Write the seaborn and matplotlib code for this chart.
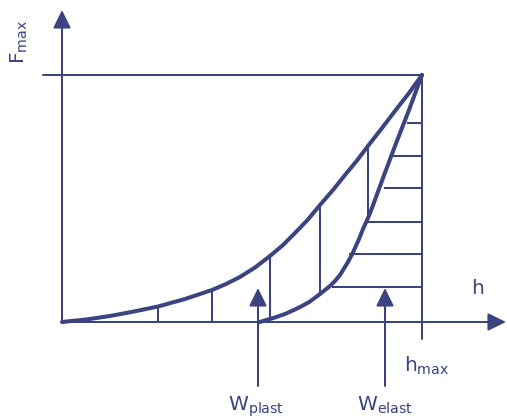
import matplotlib
matplotlib.use("Agg")
import matplotlib.pyplot as plt
import seaborn as sns

# Indentation diagram: force F (fraction of F_max) vs depth h (fraction of h_max)
load_h = [0, 0.0667, 0.1333, 0.2, 0.2667, 0.3417, 0.4167, 0.4556, 0.4944, 0.5361,
          0.5778, 0.6139, 0.6472, 0.6833, 0.7167, 0.7528, 0.7861, 0.8194, 0.85,
          0.8889, 0.925, 0.9639, 1.0]
load_F = [0, 0.0101, 0.0243, 0.0425, 0.0628, 0.0931, 0.1296, 0.1538, 0.1822, 0.2206,
          0.2672, 0.3117, 0.3603, 0.415, 0.4737, 0.5344, 0.5951, 0.6538, 0.7126,
          0.7854, 0.8543, 0.9271, 1.0]

unload_h = [0.55, 0.5722, 0.5917, 0.6194, 0.6472, 0.6694, 0.6889, 0.7167, 0.7444,
            0.7583, 0.7722, 0.7833, 0.7944, 0.8056, 0.8139, 0.825, 0.8361, 0.85,
            0.8611, 0.8917, 0.925, 0.9639, 1.0]
unload_F = [0, 0.0101, 0.0182, 0.0324, 0.0506, 0.0668, 0.083, 0.1134, 0.1457,
            0.166, 0.1903, 0.2166, 0.2429, 0.2733, 0.2996, 0.336, 0.3765, 0.4211,
            0.4615, 0.583, 0.7126, 0.8583, 1.0]

# vertical hatching of the plastic work area
plast_h = [0.2667, 0.4167, 0.5778, 0.7167, 0.85]
plast_top = [0.0628, 0.1296, 0.2672, 0.4737, 0.7126]
plast_bottom = [0, 0, 0.0142, 0.1134, 0.4211]

# horizontal hatching of the elastic work area
elast_F = [0.8069, 0.6721, 0.5405, 0.4061, 0.2753, 0.1397]
elast_left = [0.9575, 0.9158, 0.8944, 0.85, 0.7972, 0.7492]

labels = ["$\\mathregular{F_{max}}$", "h", "$\\mathregular{h_{max}}$",
          "$\\mathregular{W_{plast}}$", "$\\mathregular{W_{elast}}$"]

navy = "#3b4381"
thin = 1.45
thick = 2.9

sns.set_theme(style="white")
plt.rcParams["font.family"] = ["DejaVu Sans"]

fig = plt.figure(figsize=(5.07, 4.17), dpi=100)
ax = fig.add_axes([0, 0, 1, 1])
ax.set_xlim(-62 / 360, 445 / 360)
ax.set_ylim(-95 / 247, 322 / 247)
ax.axis("off")


def arrow(x0, y0, x1, y1):
    ax.annotate("", xy=(x1, y1), xytext=(x0, y0),
                arrowprops=dict(arrowstyle="-|>,head_length=11,head_width=5.4",
                                mutation_scale=1, lw=thin, color=navy,
                                shrinkA=0, shrinkB=0))


# axes with arrows
arrow(0, 0, 0, 312 / 247)
arrow(0, 0, 444 / 360, 0)

# F_max and h_max guide lines
ax.plot([-19 / 360, 1.0], [1.0, 1.0], color=navy, lw=thin)
ax.plot([1.0, 1.0], [1.0, -17 / 247], color=navy, lw=thin)

# hatching
ax.vlines(plast_h, plast_bottom, plast_top, color=navy, lw=thin)
ax.hlines(elast_F, elast_left, [1.0] * len(elast_F), color=navy, lw=thin)

# loading and unloading curves
sns.lineplot(x=load_h, y=load_F, sort=False, estimator=None, color=navy,
             lw=thick, ax=ax, solid_capstyle="round")
sns.lineplot(x=unload_h, y=unload_F, sort=False, estimator=None, color=navy,
             lw=thick, ax=ax, solid_capstyle="round")

# work arrows
arrow(196 / 360, -64 / 247, 196 / 360, 34 / 247)
arrow(323 / 360, -64 / 247, 323 / 360, 34 / 247)

fs = 14.5
ax.text(-43 / 360, 280 / 247, labels[0], rotation=90, ha="center", va="center",
        fontsize=fs, color=navy)
ax.text(416 / 360, 34 / 247, labels[1], ha="center", va="center",
        fontsize=fs, color=navy)
ax.text(342 / 360, -50 / 247, labels[2], ha="left", va="baseline",
        fontsize=fs, color=navy)
ax.text(166 / 360, -89 / 247, labels[3], ha="left", va="baseline",
        fontsize=fs, color=navy)
ax.text(295 / 360, -89 / 247, labels[4], ha="left", va="baseline",
        fontsize=fs, color=navy)

fig.savefig("out.png", dpi=100)
